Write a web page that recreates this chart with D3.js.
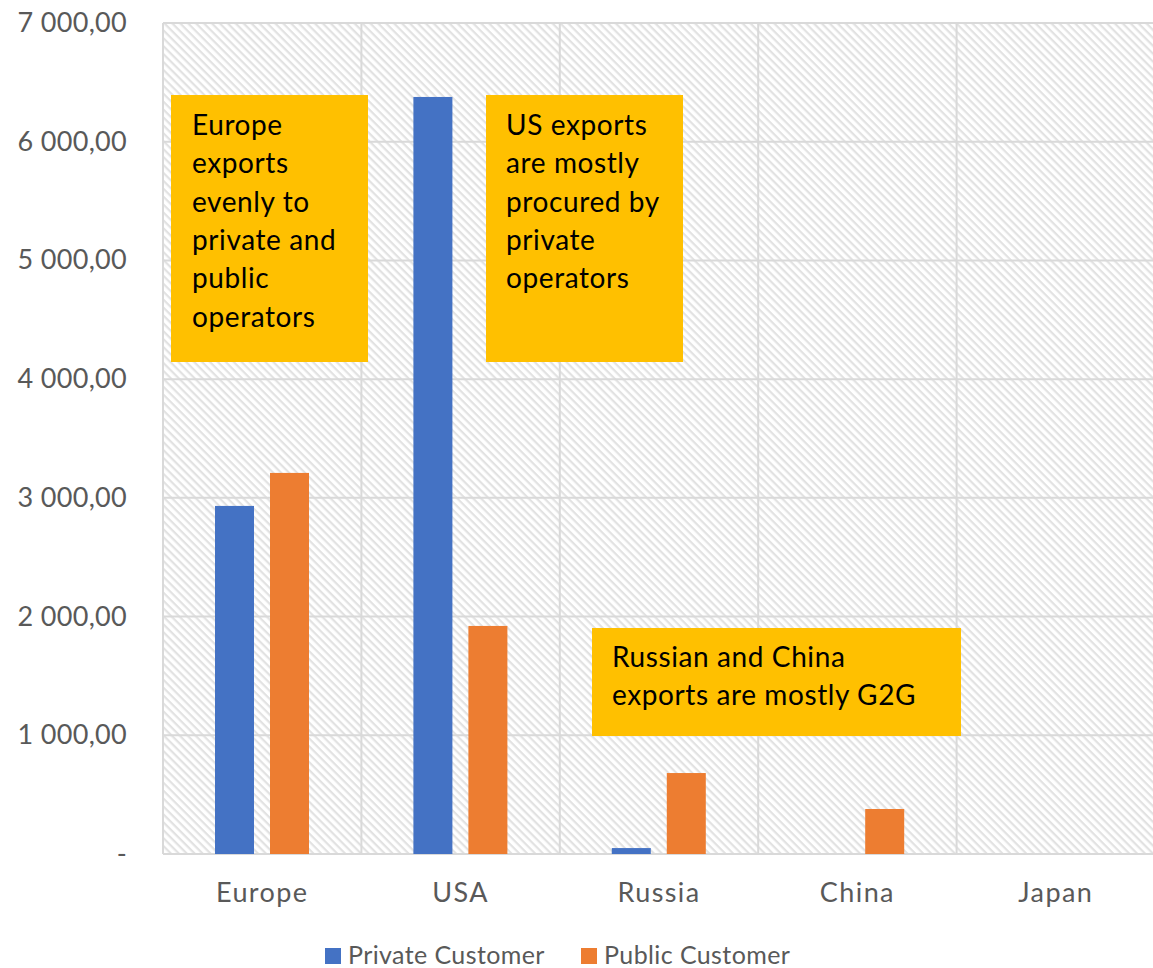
<!DOCTYPE html>
<html><head><meta charset="utf-8">
<script src="https://cdn.jsdelivr.net/npm/d3@7"></script>
<style>body{margin:0;background:#fff}svg{display:block}</style>
</head><body>
<script>
const categories = ["Europe","USA","Russia","China","Japan"];
const privateValues = [2932, 6377, 50, 0, 0];
const publicValues = [3210, 1921, 682, 379, 0];
const seriesNames = ["Private Customer","Public Customer"];
const yTicks = [0,1000,2000,3000,4000,5000,6000,7000];
const notes = [
  {lines:["Europe","exports","evenly to","private and","public","operators"]},
  {lines:["US exports","are mostly","procured by","private","operators"]},
  {lines:["Russian and China","exports are mostly G2G"]}
];

const W=1153,H=968;
const m={l:163,r:-2,t:23,b:114};
const svg=d3.select("body").append("svg").attr("width",W).attr("height",H);
const defs=svg.append("defs");
const P=5.6;
const pat=defs.append("pattern").attr("id","hatch").attr("patternUnits","userSpaceOnUse")
  .attr("width",P).attr("height",P).attr("patternTransform","rotate(45)");
pat.append("rect").attr("width",P).attr("height",P).attr("fill","#fff");
pat.append("rect").attr("width",P).attr("height",2.2).attr("fill","#e2e2e2");

const x=d3.scaleBand().domain(categories).range([m.l,W-m.r]);
const y=d3.scaleLinear().domain([0,7000]).range([H-m.b,m.t]);
const font="Lato, 'Open Sans', sans-serif";

svg.append("rect").attr("x",m.l).attr("y",m.t).attr("width",x.range()[1]-m.l).attr("height",y(0)-m.t).attr("fill","url(#hatch)");

// gridlines
svg.append("g").selectAll("line").data(yTicks).join("line")
  .attr("x1",m.l).attr("x2",W).attr("y1",d=>y(d)).attr("y2",d=>y(d))
  .attr("stroke","#d9d9d9").attr("stroke-width",2);
const bounds=categories.map(c=>x(c)).concat([x.range()[1]]);
svg.append("g").selectAll("line").data(bounds).join("line")
  .attr("x1",d=>d).attr("x2",d=>d).attr("y1",m.t).attr("y2",y(0))
  .attr("stroke","#d9d9d9").attr("stroke-width",2);

// y labels
svg.append("g").selectAll("text").data(yTicks).join("text")
  .attr("x",127).attr("y",d=>y(d)+9).attr("text-anchor","end")
  .attr("font-family",font).attr("font-size",27).attr("letter-spacing",0.3).attr("fill","#595959")
  .text(d=>d===0?"-":d3.format(",.2f")(d).replace(",","\u2009").replace(".",",").replace("\u2009"," "));

// bars
const bw=39, off=[52,107];
const series=[{vals:privateValues,color:"#4472c4"},{vals:publicValues,color:"#ed7d31"}];
series.forEach((s,i)=>{
  svg.append("g").selectAll("rect").data(categories).join("rect")
    .attr("x",c=>x(c)+off[i]).attr("width",bw)
    .attr("y",(c,j)=>y(s.vals[j])).attr("height",(c,j)=>y(0)-y(s.vals[j]))
    .attr("fill",s.color);
});

// x labels
svg.append("g").selectAll("text").data(categories).join("text")
  .attr("x",c=>x(c)+x.bandwidth()/2).attr("y",902).attr("text-anchor","middle")
  .attr("font-family",font).attr("font-size",27).attr("letter-spacing",1.4).attr("fill","#595959").text(c=>c);

// notes
const boxes=[{x:171,y:95,w:197,h:267,tx:192,ty:135},{x:486,y:95,w:197,h:267,tx:506,ty:135},{x:592,y:628,w:369,h:108,tx:612,ty:667}];
boxes.forEach((b,i)=>{
  const g=svg.append("g");
  g.append("rect").attr("x",b.x).attr("y",b.y).attr("width",b.w).attr("height",b.h).attr("fill","#ffc000");
  g.selectAll("text").data(notes[i].lines).join("text")
    .attr("x",b.tx).attr("y",(d,k)=>b.ty+k*38.3)
    .attr("font-family",font).attr("font-size",28).attr("letter-spacing",0.6).attr("fill","#000").text(d=>d);
});

// legend
const lg=[{x:325,tx:348},{x:581,tx:604}];
seriesNames.forEach((n,i)=>{
  svg.append("rect").attr("x",lg[i].x).attr("y",948).attr("width",16).attr("height",16).attr("fill",series[i].color);
  svg.append("text").attr("x",lg[i].tx).attr("y",964).attr("font-family",font).attr("font-size",25).attr("letter-spacing",0.4).attr("fill","#595959").text(n);
});
</script>
</body></html>
